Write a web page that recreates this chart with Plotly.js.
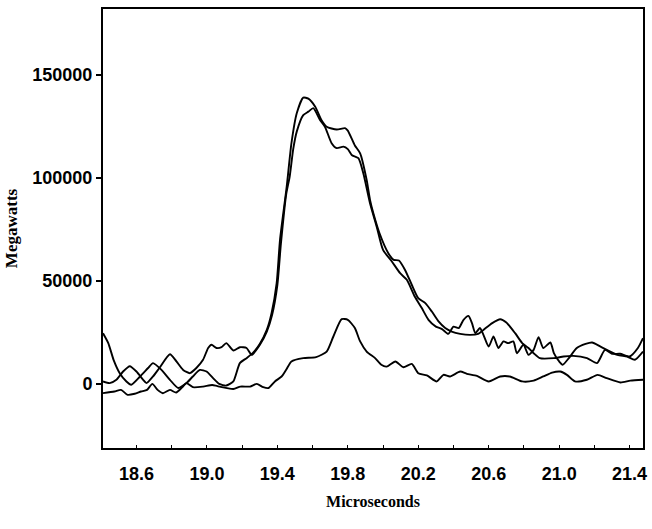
<!DOCTYPE html>
<html>
<head>
<meta charset="utf-8">
<script src="https://cdn.plot.ly/plotly-3.0.1.min.js"></script>
<style>html,body{margin:0;padding:0;background:#fff;}#chart{width:652px;height:529px;}</style>
</head>
<body>
<div id="chart"></div>
<script>
// Series A (tallest pulse)
const xA = [18.41,18.44,18.47,18.505,18.543,18.57,18.62,18.666,18.694,18.742,18.79,18.837,18.884,18.92,18.96,18.998,19.035,19.07,19.11,19.15,19.187,19.225,19.26,19.30,19.34,19.367,19.396,19.415,19.453,19.48,19.51,19.547,19.576,19.615,19.65,19.68,19.737,19.784,19.8,19.84,19.87,19.907,19.926,19.945,19.98,20.03,20.06,20.09,20.125,20.163,20.2,20.24,20.277,20.315,20.353,20.39,20.438,20.495,20.54,20.57,20.62,20.665,20.7,20.75,20.79,20.826,20.855,20.89,20.97,21.025,21.08,21.158,21.215,21.26,21.3,21.346,21.4,21.447,21.476];
const yA = [24700,19900,11800,5300,1300,-300,3700,7800,10200,6900,2100,-1900,500,3700,6900,6100,2900,100,-700,1300,10200,12600,15000,19500,26300,34400,49000,70000,95800,116900,131400,139000,138500,134600,128200,124900,123500,124200,123000,115800,112000,99100,89400,82900,73200,63500,60300,60000,55400,48200,41700,39300,35200,30400,27200,25500,24400,23900,24400,26300,29600,31500,29900,24700,19900,17500,15000,12600,12600,13400,13700,12600,10200,16600,14700,14700,13400,17500,22300];
// Series B (second pulse)
const xB = [18.41,18.448,18.486,18.524,18.562,18.60,18.638,18.657,18.694,18.73,18.79,18.827,18.865,18.903,18.94,18.978,19.007,19.026,19.055,19.083,19.11,19.15,19.187,19.225,19.254,19.30,19.34,19.37,19.40,19.42,19.45,19.47,19.49,19.51,19.547,19.576,19.604,19.642,19.67,19.708,19.737,19.775,19.80,19.822,19.86,19.888,19.926,19.964,20.0,20.05,20.097,20.135,20.18,20.22,20.258,20.3,20.335,20.37,20.4,20.43,20.457,20.485,20.505,20.524,20.55,20.57,20.6,20.627,20.655,20.684,20.71,20.74,20.76,20.797,20.826,20.855,20.883,20.91,20.95,20.97,21.0,21.02,21.055,21.1,21.15,21.187,21.235,21.33,21.386,21.43,21.476];
const yB = [1300,500,2100,6100,8700,6100,2100,500,3700,7800,14500,11000,6900,5300,7800,11800,17500,19100,17500,17900,19900,16300,17900,17500,14200,19000,25500,33500,48000,68000,92000,100700,114000,122500,130500,132200,133900,128200,124900,116900,114500,115200,114000,111200,109600,102300,87800,76400,65100,59500,53800,50600,42500,36900,31200,27900,26700,24400,27900,27200,31200,33100,29600,24700,27200,23900,18200,23100,17500,20700,19900,20700,15000,19100,14200,16600,22800,17500,20200,15000,11000,9400,12600,17500,19500,20200,18200,14200,13400,11800,15800];
// Series C (small pulse)
const xC = [18.41,18.475,18.512,18.55,18.59,18.626,18.66,18.69,18.72,18.75,18.79,18.825,18.86,18.884,18.92,18.978,19.03,19.06,19.15,19.19,19.245,19.283,19.32,19.35,19.386,19.424,19.45,19.48,19.547,19.62,19.68,19.718,19.765,19.8,19.84,19.87,19.907,19.955,19.99,20.02,20.07,20.115,20.163,20.2,20.249,20.305,20.343,20.38,20.438,20.476,20.533,20.6,20.665,20.72,20.79,20.855,20.91,20.96,21.006,21.044,21.09,21.157,21.218,21.27,21.348,21.404,21.476];
const yC = [-4400,-3600,-2800,-5200,-4700,-3600,-2800,100,-2800,-4400,-2800,-4100,-1500,500,-1500,-1200,-400,-1000,-2400,-1200,-1200,100,-1500,-1900,1300,3700,7000,11000,12600,13100,15800,23100,31500,31200,27200,20700,15800,12600,9400,8500,11000,8200,9800,5300,4200,1300,4500,3700,6100,5000,4000,1300,3700,3700,1300,1700,3700,5600,6100,4500,1300,2100,4500,2900,800,1700,2100];
const xTitle = 'Microseconds';
const yTitle = 'Megawatts';

const lineStyle = {color:'#000', width:1.9, shape:'spline', smoothing:0.6};
const mk = (x,y) => ({x:x, y:y, type:'scatter', mode:'lines', line:lineStyle, hoverinfo:'skip', showlegend:false});

const tickFont = {family:'"Liberation Sans", Arial, sans-serif', size:18, weight:'bold', color:'#000'};
const xTitleFont = {family:'"Liberation Serif","Times New Roman",serif', size:16, weight:'bold', color:'#000'};
const yTitleFont = {family:'"Liberation Serif","Times New Roman",serif', size:17, weight:'bold', color:'#000'};

const layout = {
  width:652, height:529,
  margin:{l:103, r:9, t:9, b:81},
  paper_bgcolor:'#fff', plot_bgcolor:'#fff',
  showlegend:false,
  xaxis:{
    range:[18.41, 21.476], tick0:18.6, dtick:0.4, tickformat:'.1f',
    ticks:'inside', ticklen:3, tickwidth:1, tickcolor:'#000',
    minor:{tick0:18.6, dtick:0.2, ticks:'inside', ticklen:3, tickcolor:'#000'},
    showline:true, linecolor:'#000', linewidth:2, mirror:true,
    showgrid:false, zeroline:false, tickfont:tickFont, ticklabelstandoff:8,
    title:{text:xTitle, font:xTitleFont, standoff:13}
  },
  yaxis:{
    range:[-31000, 182000], tick0:0, dtick:50000, tickformat:'d',
    ticks:'outside', ticklen:5, tickwidth:1.5, tickcolor:'#000',
    showline:true, linecolor:'#000', linewidth:2, mirror:true,
    showgrid:false, zeroline:false, tickfont:tickFont,
    title:{text:yTitle, font:yTitleFont, standoff:10}
  }
};
Plotly.newPlot('chart', [mk(xA,yA), mk(xB,yB), mk(xC,yC)], layout, {staticPlot:true, displayModeBar:false});
</script>
</body>
</html>
